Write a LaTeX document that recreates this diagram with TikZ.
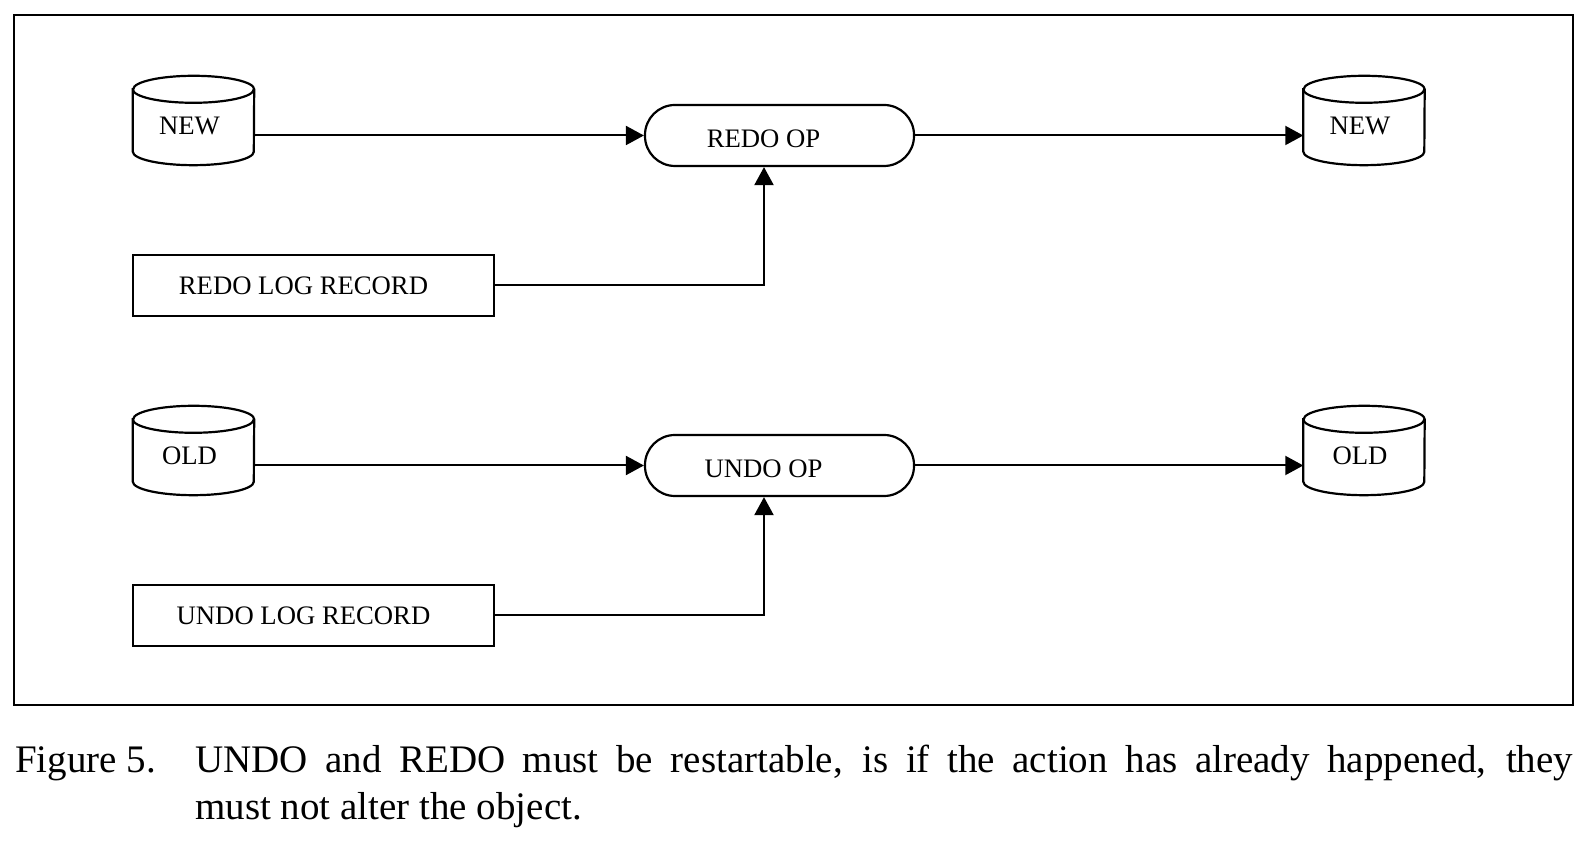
\documentclass[tikz,border=0pt]{standalone}
\usepackage{fontspec}
\setmainfont{Liberation Serif}
\usetikzlibrary{arrows.meta}
\newcommand\dbcyl[1]{%
  \draw[shapeline] ([yshift=-13.5pt]#1.north west) -- ([yshift=13.5pt]#1.south west)
    arc[start angle=180,end angle=360,x radius=60.5pt,y radius=13.5pt]
    -- ([yshift=-13.5pt]#1.north east)
    arc[start angle=0,end angle=180,x radius=60.5pt,y radius=13.5pt] -- cycle;
  \draw[shapeline] ([yshift=-13.5pt]#1.north west)
    arc[start angle=180,end angle=360,x radius=60.5pt,y radius=13.5pt];}
\newcommand\shifttext[3]{\raisebox{#2}[\height][\depth]{\makebox[0pt]{\hspace*{#1}#3}}}
\begin{document}
\begin{tikzpicture}[x=1pt,y=1pt,
  shapeline/.style={line width=2.2pt,black},
  nodefont/.style={font=\fontsize{26.7pt}{32pt}\selectfont},
  cyl/.style={nodefont,minimum width=121pt,minimum height=89pt,inner sep=0pt},
  opbox/.style={nodefont,draw,line width=2.2pt,minimum width=269pt,minimum height=61pt,rounded corners=30pt,inner sep=0pt},
  logbox/.style={nodefont,draw,line width=2.2pt,minimum width=361pt,minimum height=61pt,inner sep=0pt},
  conn/.style={line width=2pt,-{Triangle[length=18pt,width=19pt]}},
  capfont/.style={font=\fontsize{39pt}{46pt}\selectfont,inner sep=0pt,anchor=base west}]
\useasboundingbox (0,0) rectangle (1590,842);
\draw[line width=2.4pt] (14,827) rectangle (1573,137);

% top row
\node[cyl] (new1) at (193.5,721.5) {\shifttext{-8pt}{-5pt}{NEW}};
\node[cyl] (new2) at (1364,721.5) {\shifttext{-8pt}{-5pt}{NEW}};
\dbcyl{new1}
\dbcyl{new2}
\node[opbox] (redo) at (779.5,706.5) {\shifttext{-32pt}{-3pt}{REDO OP}};
\node[logbox] (redolog) at (313.5,556.5) {\shifttext{-20pt}{0pt}{REDO LOG RECORD}};
\draw[conn] (new1.east |- redo.west) -- (redo.west);
\draw[conn] (redo.east) -- (new2.west |- redo.east);
\draw[conn] (redolog.east) -| ([xshift=-15.5pt]redo.south);

% bottom row
\node[cyl] (old1) at (193.5,391.5) {\shifttext{-8pt}{-5pt}{OLD}};
\node[cyl] (old2) at (1364,391.5) {\shifttext{-8pt}{-5pt}{OLD}};
\dbcyl{old1}
\dbcyl{old2}
\node[opbox] (undo) at (779.5,376.5) {\shifttext{-32pt}{-3pt}{UNDO OP}};
\node[logbox] (undolog) at (313.5,226.5) {\shifttext{-20pt}{0pt}{UNDO LOG RECORD}};
\draw[conn] (old1.east |- undo.west) -- (undo.west);
\draw[conn] (undo.east) -- (old2.west |- undo.east);
\draw[conn] (undolog.east) -| ([xshift=-15.5pt]undo.south);

% caption
\node[capfont] (figlabel) at (15,69) {Figure 5.};
\node[capfont] (capline1) at (195,69) {\makebox[1378pt][s]{UNDO and REDO must be restartable, is if the action has already happened, they}};
\node[capfont] (capline2) at (195,22) {must not alter the object.};
\end{tikzpicture}
\end{document}
